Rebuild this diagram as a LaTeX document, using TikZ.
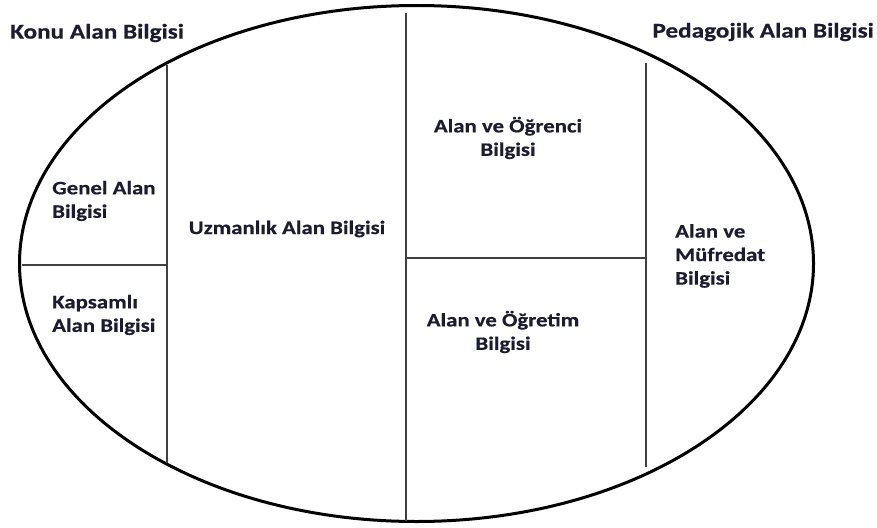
\documentclass[tikz,border=0pt]{standalone}
\usepackage{fontspec}
\setmainfont{Carlito}[FakeStretch=1.2]
\newfontfamily\headfont{Carlito}[FakeStretch=1.2, FakeBold=0.5]
\definecolor{inkblue}{HTML}{1C1C30}
\tikzset{
  lbl/.style={font=\headfont\fontsize{19}{23.5}\selectfont\bfseries, text=inkblue, inner sep=0pt, align=left},
  lblc/.style={lbl, align=center},
  corner/.style={lbl, font=\headfont\fontsize{21}{24}\selectfont\bfseries},
  rim/.style={line width=3pt, black},
  wall/.style={line width=1.6pt, black!75}
}
\begin{document}
\begin{tikzpicture}[x=1pt,y=-1pt]
    \useasboundingbox (0,0) rectangle (877,527);
    \draw [rim] (416.5,263.5) ellipse [x radius=397, y radius=258];
    \draw [wall] (167,65) -- (167,463);
    \draw [wall] (406,13) -- (406,521);
    \draw [wall] (646,63) -- (646,467);
    \draw [wall] (22,265) -- (167,265);
    \draw [wall] (406,258) -- (646,258);
    \node [corner, anchor=west] (konu) at (10,33) {Konu Alan Bilgisi};
    \node [corner, anchor=east] (pedagojik) at (874,32) {Pedagojik Alan Bilgisi};
    \node [lbl, anchor=west] (genel) at (52,201) {Genel Alan\\Bilgisi};
    \node [lbl, anchor=west] (kapsamli) at (52,315) {Kapsamlı\\Alan Bilgisi};
    \node [lbl] (uzmanlik) at (287,229) {Uzmanlık Alan Bilgisi};
    \node [lblc] (ogrenci) at (508,138) {Alan ve Öğrenci\\Bilgisi};
    \node [lblc] (ogretim) at (503,332) {Alan ve Öğretim\\Bilgisi};
    \node [lbl, anchor=west] (mufredat) at (675,256) {Alan ve\\Müfredat\\Bilgisi};
  \end{tikzpicture}
\end{document}
